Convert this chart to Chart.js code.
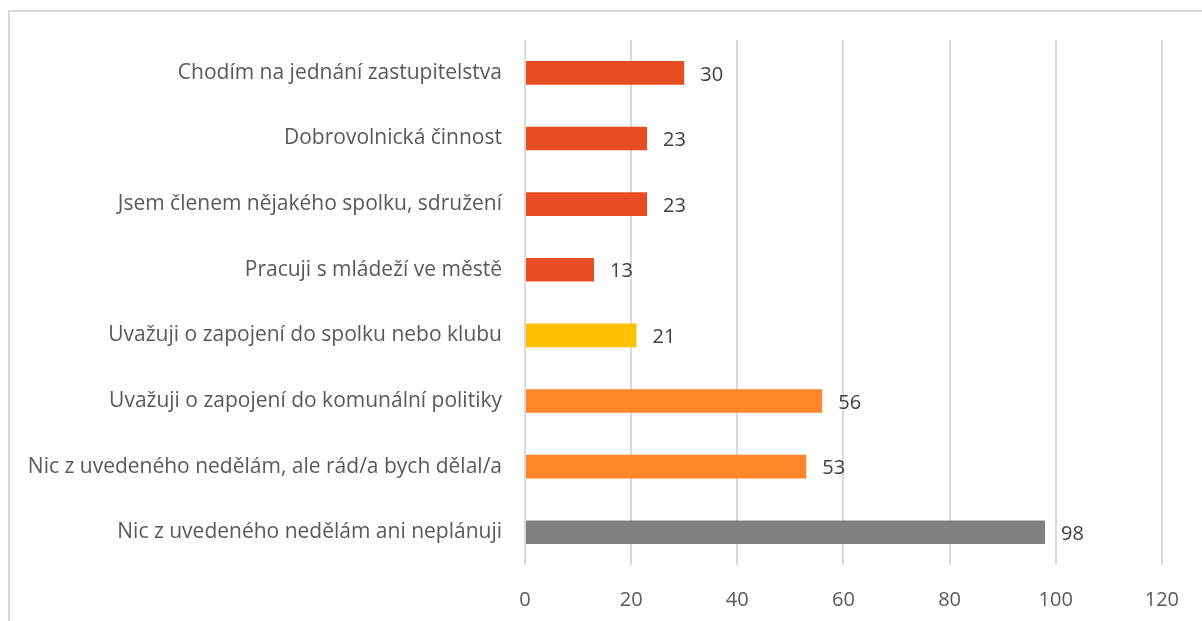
<!DOCTYPE html>
<html>
<head>
<meta charset="utf-8">
<script src="https://cdn.jsdelivr.net/npm/chart.js@4.4.0/dist/chart.umd.min.js"></script>
<style>
  html, body { margin: 0; padding: 0; background: #fff; overflow: hidden; }
  #frame { position: absolute; left: 8px; top: 10px; width: 1400px; height: 800px; border-top: 2px solid #d9d9d9; border-left: 2px solid #d9d9d9; }
  #wrap { position: absolute; left: 0; top: 0; width: 1202px; height: 621px; }
</style>
</head>
<body>
<div id="frame"></div>
<div id="wrap"><canvas id="chart"></canvas></div>
<script>
const categories = [
  'Chodím na jednání zastupitelstva',
  'Dobrovolnická činnost',
  'Jsem členem nějakého spolku, sdružení',
  'Pracuji s mládeží ve městě',
  'Uvažuji o zapojení do spolku nebo klubu',
  'Uvažuji o zapojení do komunální politiky',
  'Nic z uvedeného nedělám, ale rád/a bych dělal/a',
  'Nic z uvedeného nedělám ani neplánuji'
];
const values = [30, 23, 23, 13, 21, 56, 53, 98];
const barColors = ['#E84C22', '#E84C22', '#E84C22', '#E84C22', '#FFC000', '#FF8629', '#FF8629', '#808080'];
const xTicks = [0, 20, 40, 60, 80, 100, 120];

const fontFamily = "'Open Sans', 'DejaVu Sans', sans-serif";

const valueLabels = {
  id: 'valueLabels',
  afterDatasetsDraw(chart) {
    const ctx = chart.ctx;
    const meta = chart.getDatasetMeta(0);
    ctx.save();
    ctx.font = '20px ' + fontFamily;
    ctx.fillStyle = '#404040';
    ctx.textAlign = 'left';
    ctx.textBaseline = 'middle';
    meta.data.forEach((bar, i) => {
      ctx.fillText(String(values[i]), bar.x + 16, bar.y + 2);
    });
    ctx.restore();
  }
};

new Chart(document.getElementById('chart'), {
  type: 'bar',
  data: {
    labels: categories,
    datasets: [{
      data: values,
      backgroundColor: barColors,
      borderWidth: 0,
      barPercentage: 0.36,
      categoryPercentage: 1
    }]
  },
  options: {
    indexAxis: 'y',
    responsive: true,
    maintainAspectRatio: false,
    animation: false,
    layout: { padding: { top: 40, right: 36, left: 0, bottom: 0 } },
    plugins: { legend: { display: false }, tooltip: { enabled: false } },
    scales: {
      x: {
        min: 0, max: 120,
        afterBuildTicks(scale) { scale.ticks = xTicks.map(v => ({ value: v })); },
        afterFit(scale) { scale.height = 56; },
        grid: { color: '#d9d9d9', lineWidth: 2, drawTicks: false },
        border: { display: false },
        ticks: { color: '#595959', font: { size: 20, family: fontFamily }, padding: 23 }
      },
      y: {
        afterFit(scale) { scale.width = 525; },
        grid: { display: false },
        border: { display: false },
        ticks: { color: '#595959', font: { size: 21, family: fontFamily }, padding: 15, crossAlign: 'near' }
      }
    }
  },
  plugins: [valueLabels]
});
</script>
</body>
</html>
